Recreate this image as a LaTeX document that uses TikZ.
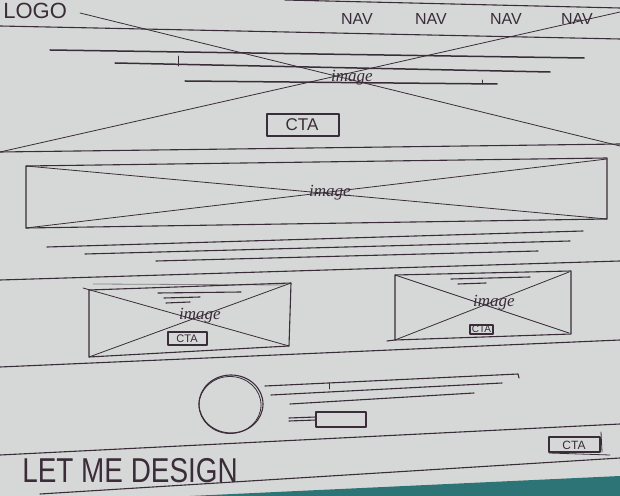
\documentclass[tikz,border=0pt]{standalone}
\usepackage{fontspec}
\usepackage{graphicx}
\setmainfont{Liberation Sans}
\newfontfamily\handfont{Liberation Serif}
\definecolor{paper}{HTML}{D6D8D7}
\definecolor{ink}{HTML}{3A2C38}
\definecolor{tealbg}{HTML}{2D7476}
\begin{document}
\begin{tikzpicture}[x=0.5pt,y=-0.5pt,
  inkline/.style={draw=ink,line width=0.55pt,line cap=round,line join=round},
  thinline/.style={draw=ink,line width=0.4pt,line cap=round},
  textline/.style={draw=ink,line width=0.75pt,line cap=round},
  lbl/.style={text=ink,inner sep=0pt},
  imglbl/.style={text=ink,inner sep=0pt,font=\fontsize{8.5}{8.5}\selectfont\handfont\itshape}]
\useasboundingbox (0,0) rectangle (620,496);
\fill[paper] (0,0) rectangle (620,496);
\fill[tealbg] (190,496) -- (620,476) -- (620,496) -- cycle;

% ---------- header ----------
\node[lbl,anchor=north west,font=\fontsize{11}{11}\selectfont] (logo) at (3,3) {LOGO};
\node[lbl,font=\fontsize{8}{8}\selectfont] (nav1) at (357,19) {NAV};
\node[lbl,font=\fontsize{8}{8}\selectfont] (nav2) at (431,19) {NAV};
\node[lbl,font=\fontsize{8}{8}\selectfont] (nav3) at (506,19) {NAV};
\node[lbl,font=\fontsize{8}{8}\selectfont] (nav4) at (577,19) {NAV};
\draw[inkline] (285,0) -- (620,8);
\draw[inkline] (0,26) -- (620,39);

% ---------- hero ----------
\draw[thinline] (80,13) -- (620,146);
\draw[thinline] (0,152) -- (620,12);
\draw[textline] (50,50) -- (584,58);
\draw[textline] (115,63) -- (550,72);
\draw[thinline] (178,56) -- (178,66);
\draw[textline] (185,81) -- (497,84);
\draw[thinline] (482,80) -- (482,84);
\node[imglbl] (img1) at (352,78) {image};
\draw[inkline] (267,114) rectangle (339,136);
\node[lbl,font=\fontsize{8.5}{8.5}\selectfont] (cta1) at (302,125) {CTA};
\draw[inkline] (0,152) -- (620,144);

% ---------- banner ----------
\draw[inkline] (26,166) -- (607,158) -- (607,219) -- (26,228) -- cycle;
\draw[thinline] (26,166) -- (607,219);
\draw[thinline] (26,228) -- (607,159);
\node[imglbl] (img2) at (330,193) {image};
\draw[inkline] (47,247) -- (583,231);
\draw[inkline] (85,254) -- (570,241);
\draw[inkline] (156,261) -- (538,251);
\draw[inkline] (0,280) -- (620,261);

% ---------- cards ----------
\draw[inkline] (89,290) -- (291,283) -- (289,346) -- (89,357) -- cycle;
\draw[thinline,opacity=0.5] (93,284) -- (284,285);
\draw[thinline] (83,288) -- (289,346);
\draw[thinline] (89,357) -- (291,283);
\draw[inkline] (158,293) -- (241,292);
\draw[inkline] (164,298) -- (200,297);
\draw[inkline] (166,303) -- (190,302);
\node[imglbl] (img3) at (200,316) {image};
\draw[inkline] (168,332) rectangle (207,345);
\node[lbl,font=\fontsize{5.5}{5.5}\selectfont] (cta2) at (187,338.5) {CTA};

\draw[inkline] (395,275) -- (571,271) -- (571,334) -- (395,340) -- cycle;
\draw[inkline] (387,341) -- (395,340);
\draw[thinline] (395,275) -- (569,333);
\draw[thinline] (395,340) -- (569,272);
\draw[inkline] (451,279) -- (530,277);
\draw[inkline] (458,284) -- (486,283);
\node[imglbl] (img4) at (494,303) {image};
\draw[inkline] (470,325) rectangle (493,334);
\node[lbl,font=\fontsize{5}{5}\selectfont] (cta3) at (481.5,329.5) {CTA};
\draw[inkline] (0,367) -- (620,340);

% ---------- profile ----------
\draw[inkline] (231,404) ellipse [x radius=32,y radius=29];
\draw[thinline] (230,405) ellipse [x radius=31,y radius=28.5];
\draw[inkline] (265,386) -- (518,374) -- (519,378);
\draw[thinline] (329,383) -- (329,389);
\draw[inkline] (271,395) -- (502,383);
\draw[inkline] (290,404) -- (474,393);
\draw[inkline] (289,418) -- (316,417);
\draw[inkline] (289,421) -- (316,420);
\draw[inkline] (316,412) rectangle (366,427);
\draw[inkline] (0,455) -- (620,424);

% ---------- footer ----------
\draw[inkline] (549,437) rectangle (600,452);
\draw[thinline] (601,432) -- (602,452);
\draw[thinline] (549,453) -- (610,455);
\node[lbl,font=\fontsize{6}{6}\selectfont] (cta4) at (574,445) {CTA};
\node[lbl,font=\fontsize{15}{15}\selectfont] (lmd) at (130,471) {\scalebox{0.93}[1.15]{LET ME DESIGN}};
\draw[inkline] (40,494) -- (620,458);
\end{tikzpicture}
\end{document}
